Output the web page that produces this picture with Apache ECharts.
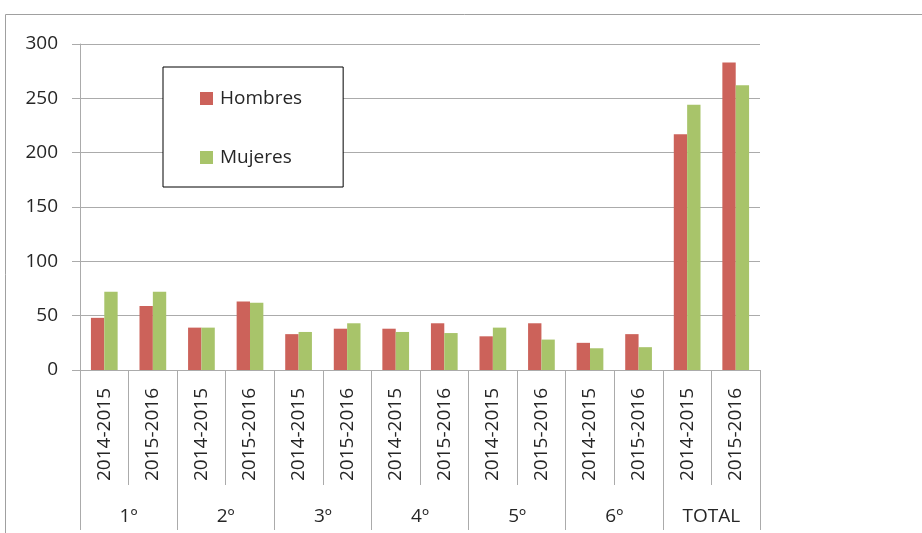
<!DOCTYPE html>
<html><head><meta charset="utf-8">
<script src="https://cdn.jsdelivr.net/npm/echarts@6/dist/echarts.min.js"></script>
<style>html,body{margin:0;padding:0;background:#fff}#c{width:922px;height:533px}</style>
</head><body><div id="c"></div>
<script>
const periods = ['2014-2015','2015-2016','2014-2015','2015-2016','2014-2015','2015-2016','2014-2015','2015-2016','2014-2015','2015-2016','2014-2015','2015-2016','2014-2015','2015-2016'];
const groups = ['1º','2º','3º','4º','5º','6º','TOTAL'];
const hombres = [48, 59, 39, 63, 33, 38, 38, 43, 31, 43, 25, 33, 217, 283];
const mujeres = [72, 72, 39, 62, 35, 43, 35, 34, 39, 28, 20, 21, 244, 262];
const yTicks = {min: 0, max: 300, interval: 50};

const FONT = 'Open Sans';
const TXT = '#262626';
const GRID = '#ABABAB';
const chart = echarts.init(document.getElementById('c'), null, {renderer: 'canvas'});
chart.setOption({
  animation: false,
  textStyle: {fontFamily: FONT},
  graphic: [{type: 'rect', shape: {x: 5.5, y: 14.5, width: 940, height: 540}, style: {fill: 'none', stroke: '#A0A0A0', lineWidth: 1}, z: -1}],
  grid: {left: 80, right: 162, top: 44, bottom: 163},
  legend: {
    orient: 'vertical', left: 163, top: 67,
    padding: [22, 41, 20, 37], itemGap: 40, itemWidth: 13, itemHeight: 13,
    borderColor: '#000', borderWidth: 1, backgroundColor: '#fff',
    icon: 'rect',
    textStyle: {fontFamily: FONT, fontSize: 19, color: TXT, padding: [0, 0, 0, 2]},
    data: ['Hombres', 'Mujeres']
  },
  xAxis: [{
    type: 'category', data: periods, position: 'bottom',
    axisLine: {lineStyle: {color: GRID}},
    axisTick: {show: true, interval: 0, length: 115, lineStyle: {color: GRID}},
    axisLabel: {interval: 0, rotate: 90, margin: 18, fontSize: 19, color: TXT, fontFamily: FONT}
  }, {
    type: 'category', data: groups, position: 'bottom',
    axisLine: {lineStyle: {color: GRID}},
    axisTick: {show: true, interval: 0, length: 160, lineStyle: {color: GRID}},
    axisLabel: {interval: 0, margin: 137, fontSize: 19, color: TXT, fontFamily: FONT}
  }],
  yAxis: {
    type: 'value', min: yTicks.min, max: yTicks.max, interval: yTicks.interval,
    axisLine: {show: true, lineStyle: {color: GRID}},
    axisTick: {show: true, length: 8, lineStyle: {color: GRID}},
    splitLine: {lineStyle: {color: GRID}},
    axisLabel: {margin: 22, fontSize: 19, color: TXT, fontFamily: FONT}
  },
  series: [
    {name: 'Hombres', type: 'bar', data: hombres, xAxisIndex: 0, barGap: '0%', barCategoryGap: '45%',
     itemStyle: {color: '#CC625A'}},
    {name: 'Mujeres', type: 'bar', data: mujeres, xAxisIndex: 0,
     itemStyle: {color: '#A8C46A'}}
  ]
});
</script></body></html>
